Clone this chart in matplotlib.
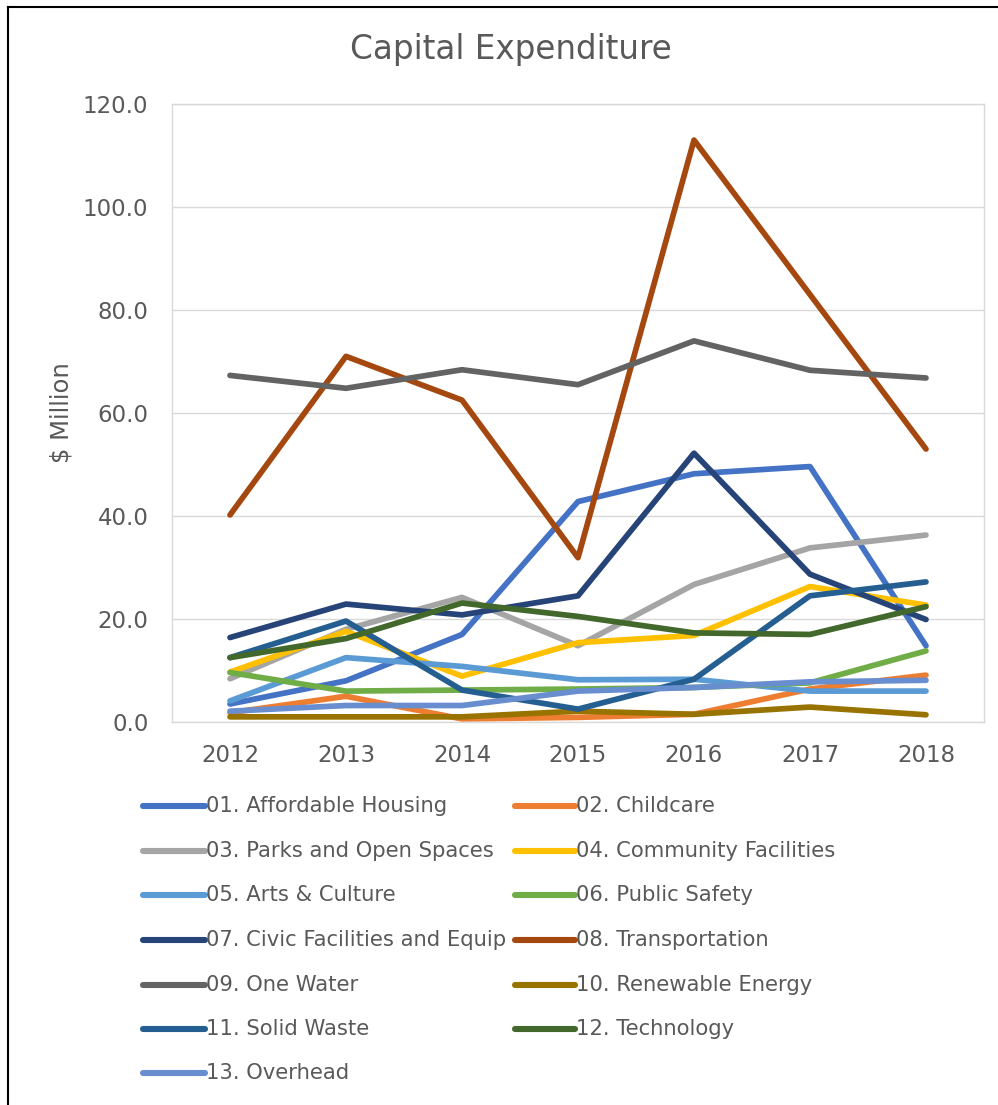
import matplotlib
matplotlib.use("Agg")
import matplotlib.pyplot as plt
from matplotlib.lines import Line2D

plt.rcParams['font.family'] = ['DejaVu Sans']

years = ["2012", "2013", "2014", "2015", "2016", "2017", "2018"]

affordable_housing = [3.5, 8.0, 17.0, 42.8, 48.2, 49.6, 14.8]
childcare = [1.8, 5.0, 0.6, 0.9, 1.5, 6.4, 9.1]
parks_open_spaces = [8.4, 18.0, 24.2, 14.8, 26.7, 33.8, 36.3]
community_facilities = [9.7, 17.6, 8.9, 15.4, 16.8, 26.3, 22.7]
arts_culture = [4.1, 12.5, 10.8, 8.2, 8.3, 6.0, 6.0]
public_safety = [9.6, 6.0, 6.2, 6.4, 6.7, 7.6, 13.8]
civic_facilities = [16.4, 22.9, 20.8, 24.5, 52.2, 28.7, 19.9]
transportation = [40.2, 71.0, 62.5, 31.9, 113.0, 83.0, 53.0]
one_water = [67.3, 64.8, 68.4, 65.5, 74.0, 68.3, 66.8]
renewable_energy = [1.0, 1.0, 1.0, 2.1, 1.5, 2.9, 1.4]
solid_waste = [12.5, 19.6, 6.2, 2.5, 8.3, 24.5, 27.2]
technology = [12.5, 16.2, 23.1, 20.5, 17.3, 17.0, 22.4]
overhead = [2.1, 3.2, 3.2, 6.0, 6.7, 7.8, 8.1]

series_names = [
    "01. Affordable Housing", "02. Childcare", "03. Parks and Open Spaces",
    "04. Community Facilities", "05. Arts & Culture", "06. Public Safety",
    "07. Civic Facilities and Equip", "08. Transportation", "09. One Water",
    "10. Renewable Energy", "11. Solid Waste", "12. Technology", "13. Overhead",
]
series_values = [
    affordable_housing, childcare, parks_open_spaces, community_facilities,
    arts_culture, public_safety, civic_facilities, transportation, one_water,
    renewable_energy, solid_waste, technology, overhead,
]
series_colors = [
    "#4472C4", "#ED7D31", "#A5A5A5", "#FFC000", "#5B9BD5", "#70AD47",
    "#264478", "#A5480F", "#636363", "#997300", "#255E91", "#43682B", "#698ED0",
]

y_ticks = [0, 20, 40, 60, 80, 100, 120]

W, H = 998, 1105
fig = plt.figure(figsize=(W / 100, H / 100), dpi=100)
fig.patch.set_facecolor("white")

ax = fig.add_axes([172 / W, 1 - 722 / H, 812 / W, 618 / H])
x = list(range(len(years)))
for name, vals, col in zip(series_names, series_values, series_colors):
    ax.plot(x, vals, color=col, lw=4.1, solid_capstyle="round",
            solid_joinstyle="round", label=name)

ax.set_xlim(-0.5, len(years) - 0.5)
ax.set_ylim(0, 120)
ax.set_xticks(x)
ax.set_xticklabels(years)
ax.set_yticks(y_ticks)
ax.set_yticklabels([f"{v:.1f}" for v in y_ticks])
ax.tick_params(axis="both", length=0, labelsize=16.5, labelcolor="#595959")
ax.tick_params(axis="y", pad=17)
ax.tick_params(axis="x", pad=16)
ax.grid(axis="y", color="#D9D9D9", lw=1)
ax.set_axisbelow(True)
for s in ax.spines.values():
    s.set_color("#D9D9D9")
    s.set_linewidth(1)
ax.set_ylabel("$ Million", fontsize=17.5, color="#595959")
ax.yaxis.set_label_coords(-98 / 812, 0.5)

fig.text(511 / W, 1 - 50 / H, "Capital Expenditure", ha="center", va="center",
         fontsize=23.5, color="#595959")

# Legend laid out row by row in two columns
row_y = [806, 851, 895, 940, 985, 1029, 1073]
col_line = [(143, 205), (515, 575)]
for i, (name, col) in enumerate(zip(series_names, series_colors)):
    r, c = divmod(i, 2)
    y = 1 - row_y[r] / H
    x0, x1 = col_line[c]
    fig.add_artist(Line2D([x0 / W, x1 / W], [y, y], color=col, lw=4.4,
                          solid_capstyle="round", transform=fig.transFigure))
    fig.text((x1 + 1) / W, y, name, ha="left", va="center", fontsize=15.2,
             color="#595959")

# Outer frame: left and top edges
fig.add_artist(Line2D([8 / W, 8 / W], [0, 1 - 7 / H], color="black", lw=1.5,
                      transform=fig.transFigure))
fig.add_artist(Line2D([8 / W, 1], [1 - 7 / H, 1 - 7 / H], color="black", lw=1.5,
                      transform=fig.transFigure))

fig.savefig("out.png", dpi=100, facecolor="white")
